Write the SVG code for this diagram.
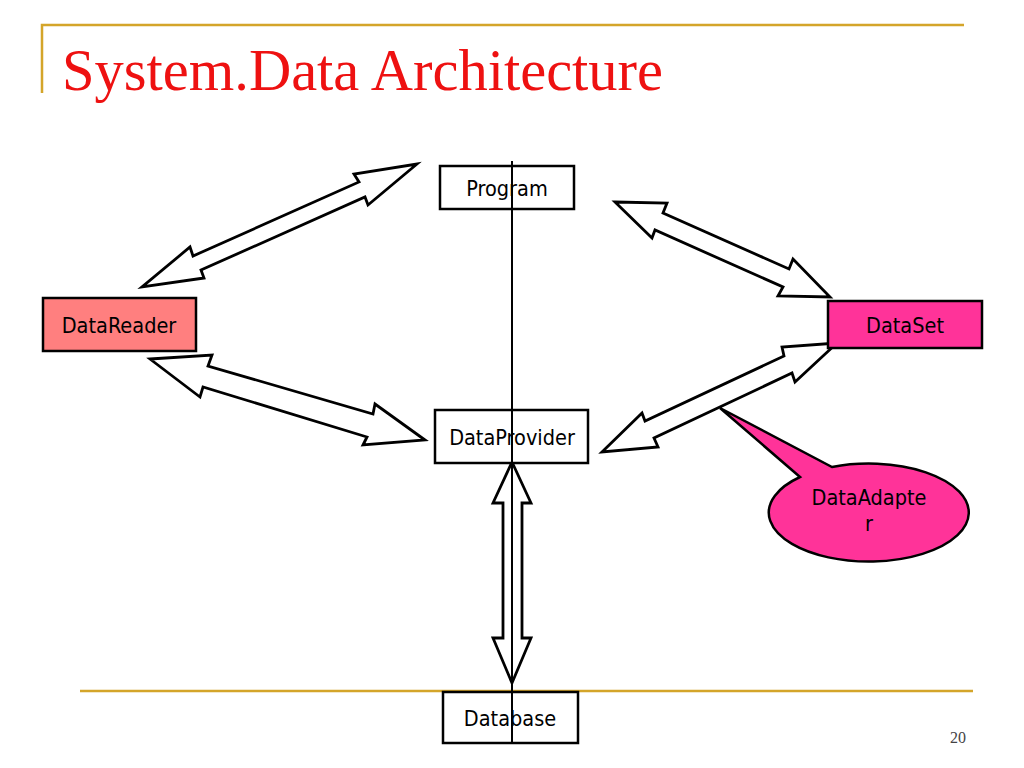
<svg xmlns="http://www.w3.org/2000/svg" width="1024" height="768" viewBox="0 0 1024 768">
<style>
.gold{stroke:#D4A52A;stroke-width:2.5;fill:none}
.box{stroke:#000;stroke-width:2.5}
.lbl{font-family:"DejaVu Sans Condensed","DejaVu Sans",sans-serif;font-stretch:condensed;font-size:21.5px;fill:#000;text-anchor:middle}
.arr{fill:#fff;stroke:#000;stroke-width:2.8;stroke-linejoin:miter}
</style>
<rect width="1024" height="768" fill="#fff"/>
<g id="frame">
<polyline class="gold" points="42,93 42,25 964,25"/>
<line class="gold" x1="80" y1="691" x2="973" y2="691"/>
<text x="62" y="90" font-family="'Liberation Serif','Times New Roman',serif" font-size="58.5" fill="#EE1111">System.Data Architecture</text>
<text x="958" y="743" font-family="'Liberation Serif','Times New Roman',serif" font-size="16" fill="#444" text-anchor="middle">20</text>
</g>
<g id="connectors">
<polygon class="arr" points="417,164 368,205 365,197 201,270 204,278 142,287 190,247 193,256 359,182 354,174"/>
<polygon class="arr" points="615,202 667,203 663,213 789,269 793,259 830,297 778,296 783,287 655,230 652,238"/>
<polygon class="arr" points="150,359 212,355 208,366 373,414 375,404 425,440 363,445 367,437 203,387 200,397"/>
<polygon class="arr" points="602,452 642,413 645,421 784,356 782,347 837,343 795,382 792,373 654,438 658,447"/>
<polygon class="arr" points="512,462 531,503 522,503 522,638 531,638 512,683 493,638 503,638 503,503 493,503"/>
</g>
<g id="program">
<rect class="box" x="440" y="166" width="134" height="43" fill="#fff"/>
<text class="lbl" x="507" y="196">Program</text>
</g>
<g id="datareader">
<rect class="box" x="43" y="298" width="153" height="53" fill="#FF7F7F"/>
<text class="lbl" x="119" y="333" fill="#1a0000">DataReader</text>
</g>
<g id="dataset">
<rect class="box" x="828" y="301" width="154" height="47" fill="#FF3399"/>
<text class="lbl" x="905" y="333" fill="#1a0010">DataSet</text>
</g>
<g id="dataprovider">
<rect class="box" x="435" y="410" width="153" height="53" fill="#fff"/>
<text class="lbl" x="512" y="445">DataProvider</text>
</g>
<g id="database">
<rect class="box" x="443" y="692" width="135" height="51" fill="#fff"/>
<text class="lbl" x="510" y="726">Database</text>
</g>
<g id="axis">
<line x1="512" y1="161" x2="512" y2="743" stroke="#000" stroke-width="2"/>
</g>
<g id="dataadapter">
<path d="M800,477 L720,408 L832,467 A100,49 0 1 1 800,477 Z" fill="#FF3399" stroke="#000" stroke-width="2.5" stroke-linejoin="miter"/>
<text class="lbl" x="869" y="505" fill="#1a0010">DataAdapte</text>
<text class="lbl" x="869" y="531" fill="#1a0010">r</text>
</g>
</svg>
